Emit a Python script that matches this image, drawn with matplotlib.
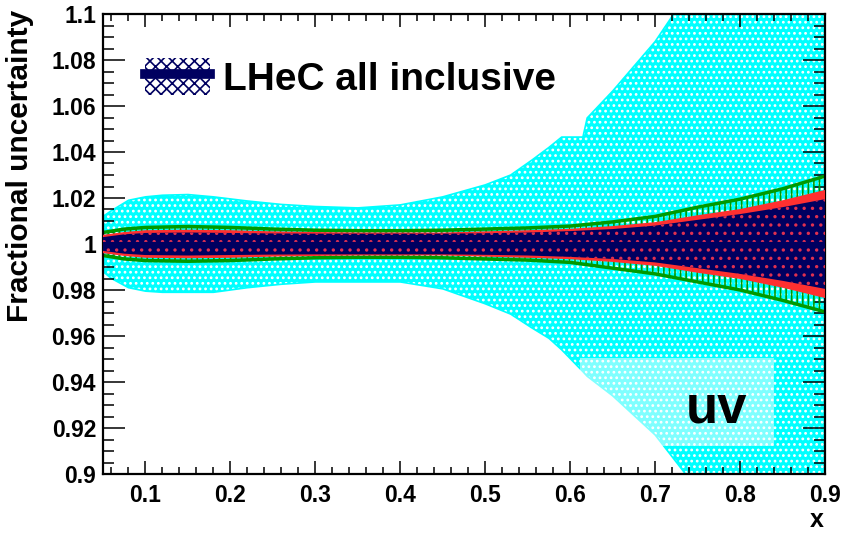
import numpy as np
import matplotlib.pyplot as plt
from matplotlib.patches import Patch, Rectangle
from matplotlib.lines import Line2D
from matplotlib.legend_handler import HandlerTuple
from matplotlib.ticker import MultipleLocator

plt.rcParams['font.family'] = ['Liberation Sans', 'DejaVu Sans']
plt.rcParams['font.weight'] = 'bold'
plt.rcParams['hatch.linewidth'] = 1.2

# wide band (cyan)
cyan_x  = [0.05, 0.06, 0.08, 0.1, 0.12, 0.15, 0.18, 0.22, 0.26, 0.3, 0.35, 0.4, 0.45,
           0.5, 0.53, 0.555, 0.575, 0.59, 0.615, 0.62, 0.65, 0.7, 0.74, 0.8, 0.9]
cyan_hi = [1.012, 1.0145, 1.019, 1.0205, 1.0212, 1.0215, 1.0205, 1.0187, 1.0172, 1.0163,
           1.0157, 1.017, 1.0205, 1.0257, 1.030, 1.0365, 1.042, 1.0465, 1.0465, 1.0548,
           1.0665, 1.088, 1.11, 1.14, 1.2]
cyan_lo = [0.988, 0.985, 0.981, 0.9795, 0.979, 0.979, 0.979, 0.981, 0.9825, 0.9835,
           0.9835, 0.9835, 0.9805, 0.974, 0.9695, 0.9635, 0.959, 0.954, 0.9445, 0.9425,
           0.934, 0.917, 0.898, 0.87, 0.8]

# narrow bands
band_x   = [0.05, 0.075, 0.1, 0.15, 0.2, 0.25, 0.3, 0.35, 0.4, 0.45, 0.5, 0.55, 0.6,
            0.65, 0.7, 0.75, 0.8, 0.85, 0.9]
green_hi = [1.005, 1.0065, 1.0072, 1.0076, 1.0072, 1.0065, 1.006, 1.0058, 1.0058, 1.006,
            1.0065, 1.007, 1.0078, 1.0096, 1.012, 1.016, 1.0195, 1.024, 1.0295]
green_lo = [0.995, 0.9935, 0.9928, 0.9925, 0.9928, 0.9935, 0.994, 0.9942, 0.9942, 0.994,
            0.9935, 0.993, 0.992, 0.9895, 0.987, 0.9835, 0.980, 0.9755, 0.9705]
red_hw   = [0.004, 0.0052, 0.006, 0.0062, 0.006, 0.0055, 0.0052, 0.005, 0.005, 0.005,
            0.0055, 0.006, 0.0066, 0.0078, 0.0095, 0.0125, 0.0152, 0.019, 0.0235]
navy_hw  = [0.003, 0.0042, 0.0048, 0.005, 0.0048, 0.0046, 0.0045, 0.0045, 0.0045, 0.0045,
            0.0047, 0.005, 0.0056, 0.0065, 0.008, 0.0105, 0.013, 0.016, 0.0195]

x_ticks = [0.1, 0.2, 0.3, 0.4, 0.5, 0.6, 0.7, 0.8, 0.9]
x_labels = ['0.1', '0.2', '0.3', '0.4', '0.5', '0.6', '0.7', '0.8', '0.9']
y_ticks = [0.9, 0.92, 0.94, 0.96, 0.98, 1.0, 1.02, 1.04, 1.06, 1.08, 1.1]
y_labels = ['0.9', '0.92', '0.94', '0.96', '0.98', '1', '1.02', '1.04', '1.06', '1.08', '1.1']

CYAN = '#00ffff'
GREEN = '#009a00'
RED = '#ff3030'
NAVY = '#000060'

fig = plt.figure(figsize=(8.46, 5.34), dpi=100)
ax = fig.add_axes([103/846, 60/534, 722/846, 460/534])

bx = np.array(band_x)
rh = np.array(red_hw)
nh = np.array(navy_hw)

ax.fill_between(cyan_x, cyan_lo, cyan_hi, facecolor=CYAN, edgecolor='white',
                hatch='...', linewidth=0, zorder=1)
ax.plot(cyan_x, cyan_hi, color=CYAN, lw=1.2, zorder=1.1)
ax.plot(cyan_x, cyan_lo, color=CYAN, lw=1.2, zorder=1.1)

# label box for the flavour
ax.add_patch(Rectangle((0.612, 0.9123), 0.228, 0.0381, facecolor='white',
                       alpha=0.5, lw=0, zorder=1.5))
ax.text(0.772, 0.9226, 'uv', fontsize=38, fontweight='bold', ha='center',
        va='baseline', zorder=7)

ax.fill_between(bx, green_lo, green_hi, facecolor='none', edgecolor=GREEN,
                hatch='|||', linewidth=0, zorder=2)
ax.plot(bx, green_hi, color=GREEN, lw=2.5, zorder=2.2)
ax.plot(bx, green_lo, color=GREEN, lw=2.5, zorder=2.2)

ax.fill_between(bx, 1 - rh, 1 + rh, facecolor=RED, lw=0, zorder=3)
ax.fill_between(bx, 1 - nh, 1 + nh, facecolor=NAVY, lw=0, zorder=4)
ax.fill_between(bx, 1 - nh, 1 + nh, facecolor='none', edgecolor='#e03050',
                hatch='..', linewidth=0, zorder=5)
ax.axhline(1.0, color=NAVY, lw=3, zorder=6)

ax.set_xlim(0.05, 0.9)
ax.set_ylim(0.9, 1.1)
ax.set_xticks(x_ticks, x_labels)
ax.set_yticks(y_ticks, y_labels)
ax.xaxis.set_minor_locator(MultipleLocator(0.02))
ax.yaxis.set_minor_locator(MultipleLocator(0.005))
ax.tick_params(which='both', direction='in', top=True, right=True, width=1.1,
               labelsize=16.5)
ax.tick_params(axis='x', which='major', length=9.5, pad=7)
ax.tick_params(axis='x', which='minor', length=5)
ax.tick_params(axis='y', which='major', length=16, pad=5)
ax.tick_params(axis='y', which='minor', length=8)
for s in ax.spines.values():
    s.set_linewidth(1.6)

fig.text(20/846, 1 - 10/534, 'Fractional uncertainty', rotation=90, ha='center',
         va='top', fontsize=21.5, fontweight='bold')
fig.text(817/846, 1 - 520/534, 'x', ha='center', va='center', fontsize=18,
         fontweight='bold')

h_box = Patch(facecolor='white', edgecolor=NAVY, hatch='xxx', lw=0)
h_line = Line2D([], [], color=NAVY, lw=7)
ax.legend([(h_box, h_line)], ['LHeC all inclusive'],
          handler_map={tuple: HandlerTuple(ndivide=1, pad=0)},
          loc='center left', bbox_to_anchor=(0.058, 0.861), frameon=False,
          borderpad=0, borderaxespad=0, handlelength=1.68, handleheight=1.07,
          handletextpad=0.32, prop={'size': 28, 'weight': 'bold'})

fig.savefig('out.png', dpi=100)
